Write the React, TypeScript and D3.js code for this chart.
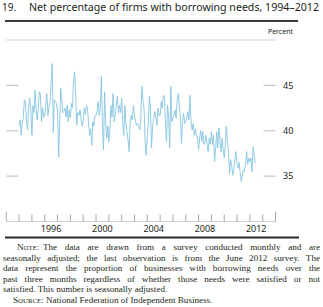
import React, { useLayoutEffect, useRef } from "react";
import * as d3 from "d3";

// ---- Text ----
const figNumber = "19.";
const title = "Net percentage of firms with borrowing needs, 1994–2012";
const unitLabel = "Percent";
const noteLines = [
  "The data are drawn from a survey conducted monthly and are",
  "seasonally adjusted; the last observation is from the June 2012 survey. The",
  "data represent the proportion of businesses with borrowing needs over the",
  "past three months regardless of whether those needs were satisfied or not",
  "satisfied. This number is seasonally adjusted.",
];
const sourceText = "National Federation of Independent Business.";

// ---- Axes ----
const yTicks = [35, 40, 45];
const yearLabels = [1996, 2000, 2004, 2008, 2012];
const tickYears = [1994, 1995, 1996, 1997, 1998, 1999, 2000, 2001, 2002, 2003, 2004, 2005, 2006, 2007, 2008, 2009, 2010, 2011, 2012, 2013];
const domainYears = [1993, 2014];
const yDomain = [30, 50];

// ---- Monthly data (percent), Jan 1994 – Jun 2012 ----
const v1994 = [40.6, 41.2, 39.5, 40.8, 41.5, 43.4, 43.2, 41.0, 40.1, 42.7, 43.6, 42.3];
const v1995 = [39.5, 42.8, 42.0, 44.5, 42.3, 41.2, 42.5, 44.3, 44.0, 41.0, 42.5, 41.5];
const v1996 = [41.7, 42.8, 44.1, 41.7, 42.7, 43.1, 45.3, 47.4, 39.8, 43.4, 43.2, 43.0];
const v1997 = [42.0, 37.1, 40.5, 44.7, 43.4, 42.0, 42.1, 42.5, 41.5, 42.8, 41.0, 42.3];
const v1998 = [41.4, 43.0, 42.5, 45.4, 46.5, 44.0, 40.6, 42.0, 41.7, 42.3, 41.2, 40.5];
const v1999 = [41.0, 42.5, 41.8, 42.8, 42.5, 41.0, 39.5, 40.2, 38.4, 41.0, 40.5, 41.7];
const v2000 = [41.7, 42.2, 43.2, 41.7, 42.5, 46.0, 41.0, 37.9, 44.3, 41.0, 39.2, 40.5];
const v2001 = [38.8, 40.3, 42.8, 41.5, 44.1, 41.0, 41.7, 42.8, 43.8, 42.0, 42.8, 42.0];
const v2002 = [43.6, 41.0, 39.5, 42.8, 41.0, 39.9, 39.0, 37.7, 41.0, 41.7, 41.2, 42.8];
const v2003 = [41.7, 41.0, 40.6, 40.8, 40.5, 40.1, 41.5, 44.9, 43.2, 42.5, 38.8, 37.3];
const v2004 = [39.5, 41.0, 43.8, 42.5, 38.1, 40.5, 41.4, 42.1, 41.5, 40.6, 42.5, 41.7];
const v2005 = [41.7, 43.2, 42.5, 43.9, 43.8, 41.0, 38.8, 42.8, 41.5, 38.1, 44.9, 41.0];
const v2006 = [41.5, 41.7, 42.3, 41.4, 43.2, 44.1, 42.8, 41.5, 38.6, 41.0, 41.9, 40.8];
const v2007 = [41.0, 41.5, 42.1, 41.2, 43.9, 41.0, 40.1, 40.8, 39.5, 40.2, 39.4, 39.4];
const v2008 = [37.9, 39.2, 40.0, 38.8, 39.9, 38.5, 38.8, 39.5, 38.4, 37.7, 39.2, 38.5];
const v2009 = [39.9, 38.5, 39.5, 36.6, 38.0, 39.9, 38.1, 40.3, 38.8, 37.7, 39.2, 38.0];
const v2010 = [37.0, 38.5, 40.5, 38.8, 37.7, 35.3, 36.8, 36.2, 35.1, 35.7, 36.8, 37.7];
const v2011 = [36.4, 35.9, 36.5, 35.3, 34.4, 35.0, 35.7, 35.5, 36.4, 37.7, 36.3, 37.0];
const v2012 = [36.6, 37.0, 35.5, 38.2, 37.5, 36.4];

const firstYear = 1994;
const values = [
  ...v1994, ...v1995, ...v1996, ...v1997, ...v1998, ...v1999, ...v2000,
  ...v2001, ...v2002, ...v2003, ...v2004, ...v2005, ...v2006, ...v2007,
  ...v2008, ...v2009, ...v2010, ...v2011, ...v2012,
];

const W = 323;
const H = 307;

// A justified text line: word spacing is stretched so the line spans `width`.
function JustifiedLine(props: { x: number; y: number; width: number; text: string; font: string; size: number; fill: string }) {
  const ref = useRef<SVGTextElement>(null);
  useLayoutEffect(() => {
    const el = ref.current;
    if (!el) return;
    el.style.wordSpacing = "0px";
    const natural = el.getComputedTextLength();
    const spaces = (props.text.match(/ /g) || []).length;
    if (spaces > 0 && natural < props.width) {
      el.style.wordSpacing = `${(props.width - natural) / spaces}px`;
    }
  }, [props.text, props.width, props.size]);
  return (
    <text ref={ref} x={props.x} y={props.y} fontFamily={props.font} fontSize={props.size} fill={props.fill}>
      {props.text}
    </text>
  );
}

export default function App() {
  const x = d3
    .scaleTime()
    .domain([new Date(domainYears[0], 0, 1), new Date(domainYears[1], 0, 1)])
    .range([6.3, 275.5]);
  const y = d3.scaleLinear().domain(yDomain).range([221.5, 40]);

  const points = values.map((v, i) => ({ date: new Date(firstYear, i, 1), v }));
  const line = d3
    .line<{ date: Date; v: number }>()
    .x((d) => x(d.date))
    .y((d) => y(d.v));

  const [x0, x1] = x.range();
  const [yb, yt] = y.range();
  const textColor = "#231f20";
  const sans = "'Noto Sans', 'Open Sans', sans-serif";
  const serif = "'Liberation Serif', 'DejaVu Serif', serif";
  const noteSize = 9.1;
  const noteY0 = 250;
  const noteDy = 10.6;

  return (
    <svg
      width={W}
      height={H}
      viewBox={`0 0 ${W} ${H}`}
      style={{ position: "fixed", left: 0, top: 0, background: "#fff" }}
    >
      {/* Title */}
      <text x={2} y={10.5} fontFamily={sans} fontSize={10} fill={textColor}>
        {figNumber}
      </text>
      <text x={29} y={10.5} fontFamily={sans} fontSize={10} fill={textColor} textLength={290} lengthAdjust="spacingAndGlyphs">
        {title}
      </text>
      <line x1={5} x2={298} y1={21} y2={21} stroke="#3c3c3c" strokeWidth={1.8} />

      {/* Unit label */}
      <text x={293} y={34} textAnchor="end" fontFamily={sans} fontSize={7} fill={textColor}>
        {unitLabel}
      </text>

      {/* Frame top and baseline */}
      <line x1={x0} x2={x1} y1={yt} y2={yt} stroke="#cfcfcf" strokeWidth={1} />
      <line x1={x0} x2={x1} y1={yb} y2={yb} stroke="#cfcfcf" strokeWidth={1} />

      {/* Y ticks (both sides, inward) and labels on right */}
      {yTicks.map((t) => (
        <g key={t}>
          <line x1={x0} x2={x0 + 12} y1={y(t)} y2={y(t)} stroke="#c4c4c4" strokeWidth={1.2} />
          <line x1={x1 - 12} x2={x1} y1={y(t)} y2={y(t)} stroke="#c4c4c4" strokeWidth={1.2} />
          <text x={283} y={y(t)} dy="0.35em" fontFamily={sans} fontSize={9} fill={textColor}>
            {t}
          </text>
        </g>
      ))}

      {/* X ticks */}
      {domainYears.map((yr) => (
        <line key={"e" + yr} x1={x(new Date(yr, 0, 1))} x2={x(new Date(yr, 0, 1))} y1={yb - 10} y2={yb} stroke="#a8a8a8" strokeWidth={1} />
      ))}
      {tickYears.map((yr) => (
        <line key={yr} x1={x(new Date(yr, 0, 1))} x2={x(new Date(yr, 0, 1))} y1={yb - 7} y2={yb} stroke="#a8a8a8" strokeWidth={1} />
      ))}
      {yearLabels.map((yr) => (
        <text key={yr} x={x(new Date(yr, 6, 1))} y={232} textAnchor="middle" fontFamily={sans} fontSize={9} fill={textColor}>
          {yr}
        </text>
      ))}

      {/* Series */}
      <path d={line(points) || ""} fill="none" stroke="#86c5e2" strokeWidth={0.9} strokeLinejoin="round" />

      {/* Bottom rule */}
      <line x1={5} x2={299} y1={237.5} y2={237.5} stroke="#2a2a2a" strokeWidth={1.8} />

      {/* Notes */}
      <text x={17} y={noteY0} fontFamily={serif} fontSize={noteSize} fill={textColor}>
        N<tspan fontSize={noteSize * 0.75}>OTE</tspan>:
      </text>
      <JustifiedLine x={43} y={noteY0} width={277} text={noteLines[0]} font={serif} size={noteSize} fill={textColor} />
      {noteLines.slice(1, 4).map((l, i) => (
        <JustifiedLine key={i} x={3} y={noteY0 + noteDy * (i + 1)} width={317} text={l} font={serif} size={noteSize} fill={textColor} />
      ))}
      <text x={3} y={noteY0 + noteDy * 4} fontFamily={serif} fontSize={noteSize} fill={textColor}>
        {noteLines[4]}
      </text>
      <text x={13} y={noteY0 + noteDy * 5} fontFamily={serif} fontSize={noteSize} fill={textColor}>
        S<tspan fontSize={noteSize * 0.75}>OURCE</tspan>:{"  "}
        {sourceText}
      </text>
    </svg>
  );
}
